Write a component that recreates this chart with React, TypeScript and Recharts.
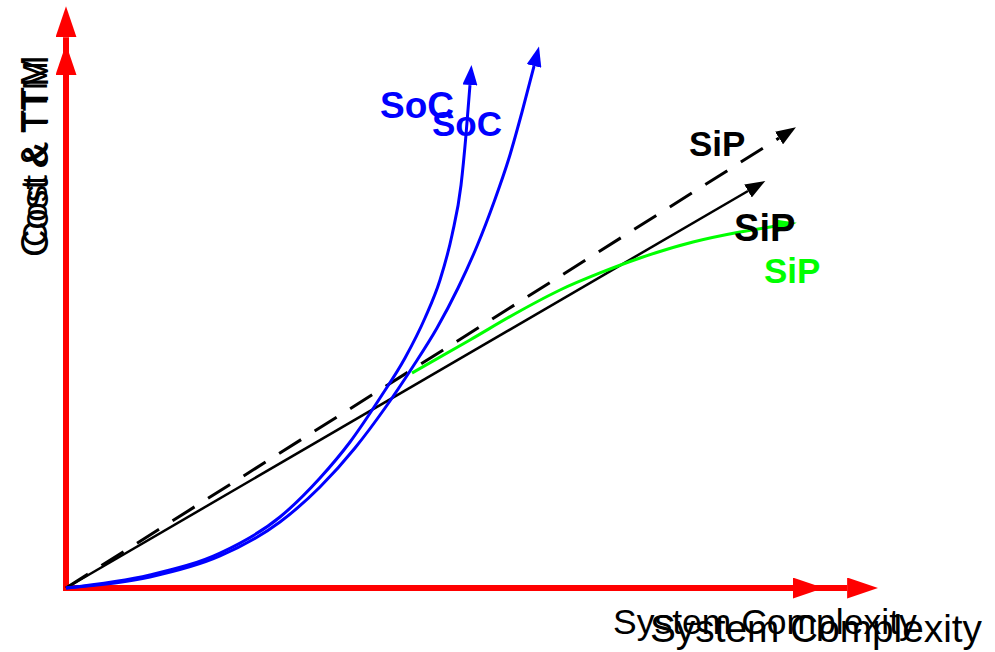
import React from 'react';
import { LineChart, Line, XAxis, YAxis, ReferenceDot } from 'recharts';

type P = { x: number; y: number };

// Conceptual axes: x = system complexity (0-100), y = cost & TTM (0-100)
const axisFrameLarge: P[] = [{ x: 0, y: 94.8 }, { x: 0, y: 0 }, { x: 96.2, y: 0 }];
const axisFrameSmall: P[] = [{ x: 0, y: 88.3 }, { x: 0, y: 0 }, { x: 89.5, y: 0 }];

const socCurveA: P[] = [
  { x: 0, y: 0 }, { x: 10.34, y: 2.24 }, { x: 18.97, y: 6.02 }, { x: 26.35, y: 12.22 },
  { x: 31.28, y: 18.93 }, { x: 34.98, y: 25.13 }, { x: 38.67, y: 32.7 }, { x: 41.75, y: 39.59 },
  { x: 44.21, y: 46.47 }, { x: 46.06, y: 53.01 }, { x: 47.54, y: 60.76 }, { x: 48.65, y: 69.36 },
  { x: 49.26, y: 77.97 }, { x: 49.75, y: 86.57 },
];
const socCurveB: P[] = [
  { x: 0, y: 0 }, { x: 10.34, y: 1.89 }, { x: 18.97, y: 5.51 }, { x: 26.35, y: 11.36 },
  { x: 31.28, y: 17.38 }, { x: 35.59, y: 24.1 }, { x: 39.29, y: 30.98 }, { x: 42.61, y: 37.87 },
  { x: 45.69, y: 44.75 }, { x: 48.28, y: 51.64 }, { x: 50.62, y: 58.86 }, { x: 52.71, y: 66.44 },
  { x: 54.56, y: 74.01 }, { x: 56.16, y: 81.93 }, { x: 57.64, y: 89.85 },
];
const sipSolid: P[] = [{ x: 0, y: 0 }, { x: 83.99, y: 68.33 }];
const sipDashed: P[] = [{ x: 0, y: 0 }, { x: 87.81, y: 77.45 }];
const sipGreen: P[] = [
  { x: 42.61, y: 37.01 }, { x: 49.75, y: 42.69 }, { x: 55.91, y: 47.68 }, { x: 60.84, y: 51.29 },
  { x: 65.76, y: 54.22 }, { x: 70.69, y: 56.8 }, { x: 77.22, y: 59.55 }, { x: 83.0, y: 61.27 },
  { x: 87.44, y: 62.31 },
];

type Lbl = { text: string; x: number; y: number; size: number; color: string; bold: boolean; rotate: boolean };
const labels: Lbl[] = [
  { text: 'SoC', x: 38.67, y: 80.9, size: 37, color: '#0000ff', bold: true, rotate: false },
  { text: 'SoC', x: 45.07, y: 77.8, size: 35, color: '#0000ff', bold: true, rotate: false },
  { text: 'SiP', x: 76.72, y: 74.35, size: 35, color: '#000000', bold: true, rotate: false },
  { text: 'SiP', x: 82.27, y: 59.72, size: 38, color: '#000000', bold: true, rotate: false },
  { text: 'SiP', x: 85.96, y: 52.5, size: 35, color: '#00ff00', bold: true, rotate: false },
  { text: 'System Complexity', x: 67.36, y: -7.92, size: 35.5, color: '#000000', bold: false, rotate: false },
  { text: 'System Complexity', x: 71.92, y: -9.29, size: 38.8, color: '#000000', bold: false, rotate: false },
  { text: 'Cost & TTM', x: -2.22, y: 56.97, size: 38, color: '#000000', bold: false, rotate: true },
  { text: 'Cost & TTM', x: -2.34, y: 58.69, size: 35, color: '#000000', bold: false, rotate: true },
];

const FONT = '"Liberation Sans", Arial, sans-serif';

const arrow = (id: string, color: string, len: number, half: number) => (
  <marker
    id={id}
    markerUnits="userSpaceOnUse"
    orient="auto-start-reverse"
    viewBox={`0 ${-half} ${len} ${half * 2}`}
    markerWidth={len}
    markerHeight={half * 2}
    refX={0}
    refY={0}
  >
    <path d={`M0,${-half}L${len},0L0,${half}Z`} fill={color} />
  </marker>
);

export default function App() {
  return (
    <div style={{ position: 'absolute', left: 0, top: 0, width: 995, height: 652, background: '#fff' }}>
      <LineChart width={995} height={652} margin={{ top: 7, right: 117, bottom: 64, left: 66 }}>
        <defs>
          {arrow('arrRed', '#ff0000', 31, 10.5)}
          {arrow('arrBlue', '#0000ff', 20, 7.5)}
          {arrow('arrBlack', '#000000', 20, 7.5)}
          {arrow('arrGreen', '#00ff00', 21, 6.5)}
        </defs>
        <XAxis type="number" dataKey="x" domain={[0, 100]} hide />
        <YAxis type="number" domain={[0, 100]} hide />
        <Line data={axisFrameLarge} dataKey="y" type="linear" stroke="#ff0000" strokeWidth={6} dot={false} activeDot={false} isAnimationActive={false} markerStart="url(#arrRed)" markerEnd="url(#arrRed)" />
        <Line data={axisFrameSmall} dataKey="y" type="linear" stroke="#ff0000" strokeWidth={6} dot={false} activeDot={false} isAnimationActive={false} markerStart="url(#arrRed)" markerEnd="url(#arrRed)" />
        <Line data={sipDashed} dataKey="y" type="linear" stroke="#000000" strokeWidth={3} strokeDasharray="26 16" dot={false} activeDot={false} isAnimationActive={false} markerEnd="url(#arrBlack)" />
        <Line data={sipSolid} dataKey="y" type="linear" stroke="#000000" strokeWidth={2.5} dot={false} activeDot={false} isAnimationActive={false} markerEnd="url(#arrBlack)" />
        <Line data={socCurveA} dataKey="y" type="monotone" stroke="#0000ff" strokeWidth={3} dot={false} activeDot={false} isAnimationActive={false} markerEnd="url(#arrBlue)" />
        <Line data={socCurveB} dataKey="y" type="monotone" stroke="#0000ff" strokeWidth={3} dot={false} activeDot={false} isAnimationActive={false} markerEnd="url(#arrBlue)" />
        <Line data={sipGreen} dataKey="y" type="monotone" stroke="#00ff00" strokeWidth={3} dot={false} activeDot={false} isAnimationActive={false} markerEnd="url(#arrGreen)" />
        {labels.map((l, i) => (
          <ReferenceDot
            key={i}
            x={l.x}
            y={l.y}
            r={0}
            ifOverflow="visible"
            shape={(props: any) => (
              <text
                x={props.cx}
                y={props.cy}
                fill={l.color}
                fontSize={l.size}
                fontWeight={l.bold ? 'bold' : 'normal'}
                fontFamily={FONT}
                textAnchor="start"
                transform={l.rotate ? `rotate(-90 ${props.cx} ${props.cy})` : undefined}
              >
                {l.text}
              </text>
            )}
          />
        ))}
      </LineChart>
    </div>
  );
}
